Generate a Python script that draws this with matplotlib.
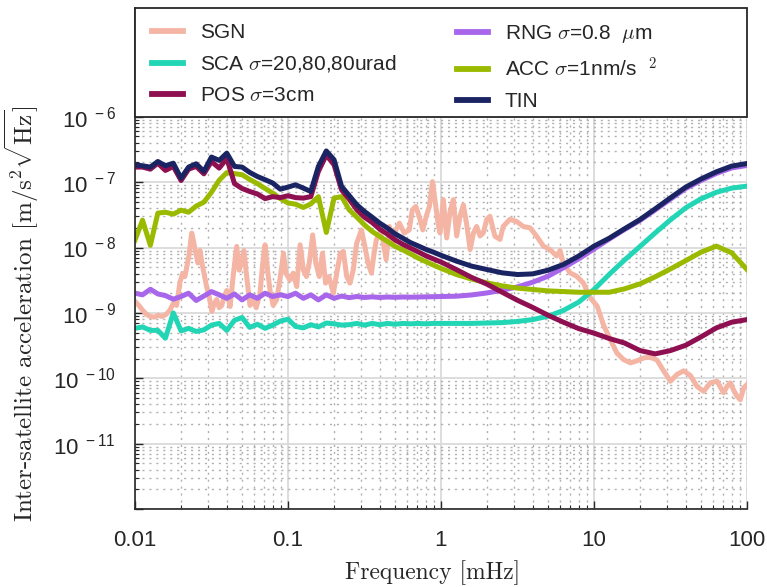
import numpy as np
import matplotlib
matplotlib.use("Agg")
import matplotlib.pyplot as plt
from matplotlib.ticker import LogLocator, FixedLocator, FixedFormatter, NullFormatter
from matplotlib.patches import Rectangle

plt.rcParams['font.family'] = ['Liberation Sans', 'DejaVu Sans']
plt.rcParams['mathtext.fontset'] = 'cm'

# ---------------- data (frequency in mHz, ASD in m/s^2/sqrt(Hz)) ----------------
freq = [0.0100, 0.0112, 0.0126, 0.0141, 0.0158, 0.0178, 0.0200, 0.0224, 0.0251, 0.0282,
        0.0316, 0.0355, 0.0398, 0.0447, 0.0501, 0.0562, 0.0631, 0.0708, 0.0794, 0.0891,
        0.100, 0.112, 0.126, 0.141, 0.158, 0.178, 0.200, 0.224, 0.251, 0.282,
        0.316, 0.355, 0.398, 0.447, 0.501, 0.562, 0.631, 0.708, 0.794, 0.891,
        1.00, 1.26, 1.58, 2.00, 2.51, 3.16, 3.98, 5.01, 6.31, 7.94,
        10.0, 12.6, 15.8, 20.0, 25.1, 31.6, 39.8, 50.1, 63.1, 79.4, 100.0]

tin = [1.84e-7, 1.78e-7, 1.70e-7, 2.07e-7, 1.78e-7, 1.95e-7, 1.15e-7, 1.70e-7, 1.91e-7, 1.46e-7,
       2.42e-7, 2.15e-7, 2.78e-7, 1.74e-7, 1.70e-7, 1.41e-7, 1.22e-7, 1.09e-7, 9.7e-8, 7.8e-8,
       8.4e-8, 9.1e-8, 8.1e-8, 7.2e-8, 1.74e-7, 3.0e-7, 2.2e-7, 8.6e-8, 6.25e-8, 4.5e-8,
       3.56e-8, 2.91e-8, 2.36e-8, 1.98e-8, 1.62e-8, 1.39e-8, 1.19e-8, 1.06e-8, 9.4e-9, 8.5e-9,
       7.6e-9, 6.2e-9, 5.2e-9, 4.6e-9, 4.1e-9, 3.86e-9, 3.95e-9, 4.5e-9, 5.5e-9, 7.4e-9,
       1.05e-8, 1.39e-8, 1.93e-8, 2.68e-8, 3.9e-8, 5.75e-8, 8.4e-8, 1.12e-7, 1.44e-7, 1.76e-7, 1.93e-7]

pos = [1.70e-7, 1.70e-7, 1.58e-7, 1.95e-7, 1.51e-7, 1.74e-7, 1.06e-7, 1.58e-7, 1.74e-7, 1.34e-7,
       2.07e-7, 1.64e-7, 2.3e-7, 9.5e-8, 8.0e-8, 7.2e-8, 6.6e-8, 5.6e-8, 6.0e-8, 5.8e-8,
       6.2e-8, 5.8e-8, 5.7e-8, 6.0e-8, 1.46e-7, 2.6e-7, 1.84e-7, 7.6e-8, 5.5e-8, 3.78e-8,
       2.91e-8, 2.41e-8, 1.91e-8, 1.60e-8, 1.31e-8, 1.12e-8, 9.8e-9, 8.6e-9, 7.5e-9, 6.7e-9,
       6.0e-9, 4.6e-9, 3.5e-9, 2.75e-9, 2.07e-9, 1.56e-9, 1.21e-9, 9.2e-10, 7.2e-10, 5.75e-10,
       4.9e-10, 4.05e-10, 3.47e-10, 2.65e-10, 2.36e-10, 2.65e-10, 3.2e-10, 4.3e-10, 5.9e-10, 7.2e-10, 7.9e-10]

acc = [1.30e-8, 2.62e-8, 1.08e-8, 3.36e-8, 3.47e-8, 3.24e-8, 3.73e-8, 3.47e-8, 4.3e-8, 4.94e-8,
       7.0e-8, 1.07e-7, 1.4e-7, 1.35e-7, 1.3e-7, 1.1e-7, 9.5e-8, 8.0e-8, 6.8e-8, 5.6e-8,
       4.8e-8, 4.6e-8, 4.1e-8, 4.65e-8, 6.0e-8, 1.7e-8, 5.7e-8, 6.0e-8, 3.78e-8, 2.91e-8,
       2.22e-8, 1.76e-8, 1.47e-8, 1.24e-8, 1.04e-8, 9.2e-9, 8.0e-9, 6.9e-9, 6.1e-9, 5.4e-9,
       4.8e-9, 3.86e-9, 3.3e-9, 2.88e-9, 2.59e-9, 2.39e-9, 2.28e-9, 2.17e-9, 2.12e-9, 2.07e-9,
       2.07e-9, 2.07e-9, 2.33e-9, 2.78e-9, 3.56e-9, 4.7e-9, 6.3e-9, 8.5e-9, 1.05e-8, 8.3e-9, 4.6e-9]

rng = [2.0e-9, 1.89e-9, 2.3e-9, 1.95e-9, 1.84e-9, 1.62e-9, 1.78e-9, 2.0e-9, 1.55e-9, 1.81e-9,
       2.12e-9, 1.89e-9, 1.67e-9, 1.95e-9, 1.58e-9, 1.89e-9, 1.67e-9, 2.0e-9, 1.78e-9, 1.89e-9,
       1.78e-9, 2.0e-9, 1.67e-9, 1.89e-9, 1.58e-9, 1.89e-9, 1.67e-9, 1.81e-9, 1.71e-9, 1.78e-9,
       1.72e-9, 1.76e-9, 1.72e-9, 1.75e-9, 1.73e-9, 1.75e-9, 1.74e-9, 1.75e-9, 1.76e-9, 1.77e-9,
       1.78e-9, 1.80e-9, 1.88e-9, 2.02e-9, 2.22e-9, 2.5e-9, 2.95e-9, 3.64e-9, 4.9e-9, 6.7e-9,
       9.5e-9, 1.35e-8, 1.88e-8, 2.6e-8, 3.75e-8, 5.5e-8, 8.0e-8, 1.06e-7, 1.36e-7, 1.65e-7, 1.8e-7]

sca = [5.8e-10, 6.1e-10, 5.4e-10, 5.4e-10, 4.1e-10, 1.0e-9, 5.3e-10, 5.8e-10, 5.2e-10, 5.5e-10,
       6.5e-10, 6.9e-10, 5.4e-10, 7.7e-10, 8.5e-10, 6.0e-10, 6.7e-10, 5.8e-10, 6.5e-10, 7.5e-10,
       8.0e-10, 6.2e-10, 5.9e-10, 6.6e-10, 6.1e-10, 7.0e-10, 6.8e-10, 6.5e-10, 6.6e-10, 6.9e-10,
       6.5e-10, 6.9e-10, 6.6e-10, 6.9e-10, 6.7e-10, 6.9e-10, 6.8e-10, 6.9e-10, 6.8e-10, 6.9e-10,
       6.9e-10, 6.9e-10, 6.9e-10, 7.0e-10, 7.1e-10, 7.4e-10, 7.9e-10, 8.9e-10, 1.09e-9, 1.46e-9,
       2.28e-9, 3.9e-9, 6.4e-9, 1.04e-8, 1.67e-8, 2.65e-8, 4.05e-8, 5.56e-8, 7.0e-8, 8.1e-8, 8.7e-8]

freq_sgn = [0.0100, 0.0106, 0.0112, 0.0119, 0.0126, 0.0134, 0.0142, 0.0150, 0.0160, 0.0169,
            0.0178, 0.0187, 0.0197, 0.0205, 0.0212, 0.0224, 0.0235, 0.0242, 0.0250, 0.0258,
            0.0266, 0.0275, 0.0285, 0.0294, 0.0305, 0.0318, 0.0330, 0.0342, 0.0355, 0.0369,
            0.0383, 0.0398, 0.0418, 0.0440, 0.0462, 0.0480, 0.0498, 0.0515, 0.0537, 0.0564,
            0.0590, 0.0620, 0.0656, 0.0680, 0.0708, 0.0735, 0.0763, 0.0800, 0.0844, 0.0890,
            0.0934, 0.0970, 0.103, 0.108, 0.114, 0.120, 0.126, 0.132, 0.138, 0.145,
            0.152, 0.160, 0.168, 0.176, 0.185, 0.198, 0.210, 0.220, 0.230, 0.242,
            0.254, 0.267, 0.281, 0.302, 0.318, 0.334, 0.351, 0.365, 0.378, 0.397,
            0.417, 0.438, 0.460, 0.484, 0.508, 0.534, 0.575, 0.620, 0.650, 0.685,
            0.720, 0.760, 0.800, 0.840, 0.880, 0.930, 0.960, 0.985, 1.036, 1.089,
            1.145, 1.204, 1.266, 1.33, 1.40, 1.47, 1.55, 1.63, 1.71, 1.80,
            1.89, 1.99, 2.09, 2.25, 2.43, 2.55, 2.82, 3.12, 3.45, 3.82,
            4.22, 4.67, 5.16, 5.70, 6.00, 6.30, 6.97, 7.70, 8.51, 9.47,
            10.5, 11.6, 12.8, 14.1, 15.6, 17.3, 19.1, 21.1, 23.4, 25.8,
            28.5, 31.6, 34.8, 38.5, 42.7, 47.1, 52.1, 57.5, 63.7, 70.3,
            74.0, 77.8, 82.0, 86.1, 90.4, 95.1, 100.0]

sgn = [1.5e-9, 1.3e-9, 1.1e-9, 9.5e-10, 8.8e-10, 8.6e-10, 9.2e-10, 8.8e-10, 9.5e-10, 1.1e-9,
       1.4e-9, 1.3e-9, 3.0e-9, 4.0e-9, 3.6e-9, 7.0e-9, 1.66e-8, 1.2e-8, 8.0e-9, 5.8e-9,
       9.0e-9, 5.5e-9, 3.6e-9, 2.5e-9, 1.8e-9, 1.05e-9, 1.4e-9, 1.6e-9, 1.2e-9, 1.3e-9,
       1.8e-9, 2.2e-9, 1.25e-9, 4.0e-9, 1.04e-8, 4.5e-9, 6.0e-9, 9.0e-9, 3.6e-9, 1.3e-9,
       1.6e-9, 1.2e-9, 2.0e-9, 5.0e-9, 1.1e-8, 4.5e-9, 2.2e-9, 1.3e-9, 1.6e-9, 3.5e-9,
       8.2e-9, 4.0e-9, 3.2e-9, 4.05e-9, 2.53e-9, 1.1e-8, 4.55e-9, 3.6e-9, 6.0e-9, 1.56e-8,
       5.75e-9, 3.6e-9, 8.2e-9, 2.85e-9, 3.6e-9, 2.0e-9, 4.55e-9, 8.2e-9, 8.7e-9, 3.6e-9,
       2.85e-9, 4.55e-9, 1.16e-8, 1.86e-8, 1.04e-8, 5.75e-9, 4.05e-9, 8.0e-9, 1.31e-8, 1.66e-8,
       1.31e-8, 6.5e-9, 2.1e-8, 1.16e-8, 1.86e-8, 2.36e-8, 1.66e-8, 1.86e-8, 3.78e-8, 4.25e-8,
       2.98e-8, 1.86e-8, 2.98e-8, 4.25e-8, 1.02e-7, 3.78e-8, 2.2e-8, 1.67e-8, 5.4e-8, 1.4e-8,
       3.5e-8, 5.4e-8, 1.5e-8, 3.0e-8, 4.5e-8, 2.3e-8, 9.3e-9, 1.67e-8, 2.1e-8, 1.5e-8,
       1.67e-8, 2.7e-8, 3.0e-8, 1.49e-8, 1.33e-8, 2.1e-8, 2.7e-8, 2.5e-8, 2.1e-8, 2.0e-8,
       1.49e-8, 1.05e-8, 9.3e-9, 7.4e-9, 9.0e-9, 5.8e-9, 4.1e-9, 3.64e-9, 2.88e-9, 1.7e-9,
       1.26e-9, 6.3e-10, 3.9e-10, 2.44e-10, 1.93e-10, 1.72e-10, 1.85e-10, 2.05e-10, 2.1e-10, 1.9e-10,
       1.3e-10, 9.0e-11, 1.14e-10, 1.3e-10, 1.1e-10, 7.5e-11, 6.3e-11, 8.5e-11, 9.0e-11, 6.0e-11,
       7.5e-11, 8.5e-11, 6.5e-11, 5.3e-11, 4.7e-11, 7.1e-11, 8.0e-11]

labels = ['SGN', r'SCA $\sigma$=20,80,80urad', r'POS $\sigma$=3cm',
          r'RNG $\sigma$=0.8  $\mu$m', r'ACC $\sigma$=1nm/s  $^{2}$', 'TIN']
colors = ['#f5b5a5', '#22d6b5', '#8e1050', '#a866ea', '#9aba00', '#1b2462']

xticks = [0.01, 0.1, 1, 10, 100]
xticklabels = ['0.01', '0.1', '1', '10', '100']
yticks = [1e-12, 1e-11, 1e-10, 1e-9, 1e-8, 1e-7, 1e-6]
yticklabels = ['', r'$\mathregular{10^{\ -11}}$', r'$\mathregular{10^{\ -10}}$', r'$\mathregular{10^{\ -9}}$',
               r'$\mathregular{10^{\ -8}}$', r'$\mathregular{10^{\ -7}}$', r'$\mathregular{10^{\ -6}}$']

# ---------------- figure ----------------
fig = plt.figure(figsize=(7.67, 5.87), dpi=100)
ax = fig.add_axes([135/767, 1-509/587, 612/767, 501/587])
ax.set_xscale('log')
ax.set_yscale('log')
ymin, ymax = 1e-12, 10**(-4.336)
ax.set_xlim(0.01, 100)
ax.set_ylim(ymin, ymax)

lw = 3.6
h_sgn, = ax.plot(freq_sgn, sgn, color=colors[0], lw=lw, zorder=2.0)
h_sca, = ax.plot(freq, sca, color=colors[1], lw=lw, zorder=2.1)
h_rng, = ax.plot(freq, rng, color=colors[3], lw=lw, zorder=2.2)
h_acc, = ax.plot(freq, acc, color=colors[4], lw=lw, zorder=2.3)
h_pos, = ax.plot(freq, pos, color=colors[2], lw=lw, zorder=2.4)
h_tin, = ax.plot(freq, tin, color=colors[5], lw=lw, zorder=2.5)

ax.set_axisbelow(True)
ax.xaxis.set_major_locator(FixedLocator(xticks))
ax.xaxis.set_major_formatter(FixedFormatter(xticklabels))
ax.xaxis.set_minor_locator(LogLocator(base=10, subs=np.arange(2, 10), numticks=100))
ax.xaxis.set_minor_formatter(NullFormatter())
ax.yaxis.set_major_locator(FixedLocator(yticks))
ax.yaxis.set_major_formatter(FixedFormatter(yticklabels))
ax.yaxis.set_minor_locator(LogLocator(base=10, subs=np.arange(2, 10), numticks=100))
ax.yaxis.set_minor_formatter(NullFormatter())

ax.grid(True, which='major', color='#dadada', lw=1.3, ls='-')
ax.grid(True, which='minor', color='#b0b0b0', lw=1.0, ls=(0, (1.5, 3.5)))

for s in ['top', 'right']:
    ax.spines[s].set_visible(False)
for s in ['left', 'bottom']:
    ax.spines[s].set_color('#262626')
    ax.spines[s].set_linewidth(1.2)

ax.tick_params(which='both', direction='in', colors='#262626', top=False, right=False)
ax.tick_params(which='major', length=6, width=1.0, labelsize=16, labelcolor='#262626')
ax.tick_params(which='minor', length=3, width=0.8)
ax.tick_params(axis='x', which='major', pad=15)
ax.tick_params(axis='y', which='major', pad=14)

# legend box covering the upper region
yfrac = (np.log10(1e-6) - np.log10(ymin)) / (np.log10(ymax) - np.log10(ymin))
rect = Rectangle((0, yfrac), 1, 1 - yfrac, transform=ax.transAxes, facecolor='white',
                 edgecolor='#262626', lw=1.3, zorder=4, clip_on=False)
ax.add_patch(rect)

common = dict(frameon=False, fontsize=15, handlelength=1.5, handletextpad=0.8,
              labelspacing=0.55, borderpad=0, borderaxespad=0, loc='upper left')
leg1 = ax.legend([h_sgn, h_sca, h_pos], [labels[0], labels[1], labels[2]],
                 bbox_to_anchor=(0.028, 0.970), **common)
ax.add_artist(leg1)
leg2 = ax.legend([h_rng, h_acc, h_tin], [labels[3], labels[4], labels[5]],
                 bbox_to_anchor=(0.526, 0.970), **common)
for lg in (leg1, leg2):
    lg.set_zorder(5)
    for t in lg.get_texts():
        t.set_math_fontfamily('cm')
        t.set_color('#262626')
    for l in lg.get_lines():
        l.set_linewidth(4.2)

# axis labels
ax.set_xlabel(r'Frequency [mHz]', fontsize=17, family='cmr10', color='#262626')
ax.set_ylabel(r'Inter-satellite acceleration $[\mathrm{m/s^2\sqrt{Hz}}]$', fontsize=18,
              family='cmr10', math_fontfamily='cm', color='#262626')
ax.xaxis.label.set_va('center')
ax.yaxis.label.set_va('center')
ax.xaxis.set_label_coords((433-135)/612, (509-573)/501)
ax.yaxis.set_label_coords((22-135)/612, (509-314)/501)

fig.savefig('out.png', dpi=100)
